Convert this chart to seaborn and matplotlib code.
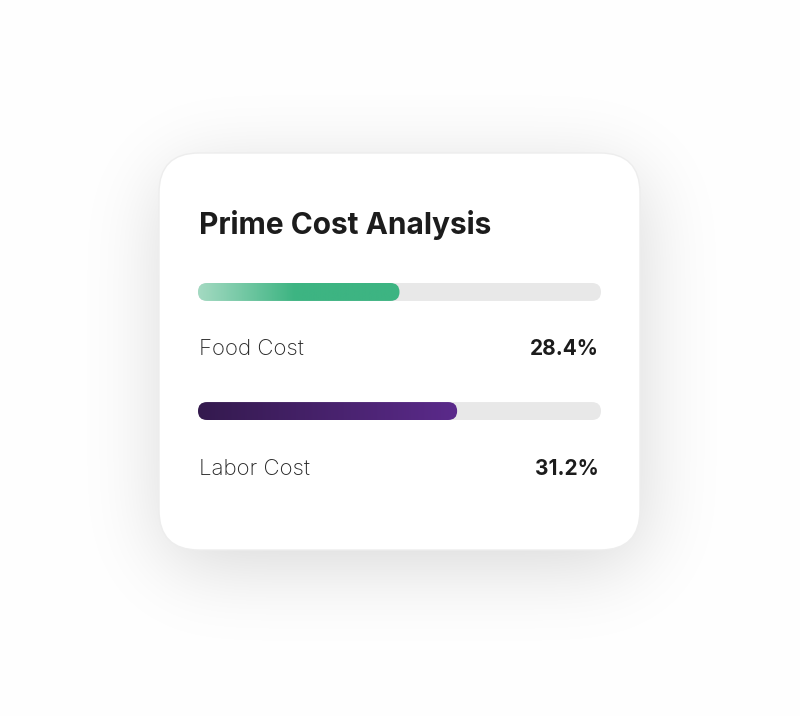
import numpy as np
import matplotlib
matplotlib.use("Agg")
import matplotlib.pyplot as plt
import seaborn as sns
from matplotlib.patches import FancyBboxPatch
from matplotlib.colors import LinearSegmentedColormap

# chart data
title = "Prime Cost Analysis"
categories = ["Food Cost", "Labor Cost"]
value_labels = ["28.4%", "31.2%"]
bar_fill = [50.0, 64.3]      # how far each bar is filled (percent of track)
track_max = [100, 100]

sns.set_theme(style="white")
plt.rcParams["font.family"] = ["Inter", "DejaVu Sans"]

W, H = 800, 716
fig = plt.figure(figsize=(8, 7.16), dpi=100)
fig.patch.set_facecolor("white")

# background axes in pixel coordinates
bg = fig.add_axes([0, 0, 1, 1])
bg.axis("off")

# soft drop shadow behind the card
cx0, cy0, cw, ch, cr = 159, 153, 481, 397, 40
yy, xx = np.mgrid[0:H, 0:W]
sx0, sy0 = cx0 + 2, cy0 + 16
dx = np.maximum(np.maximum(sx0 + cr - xx, xx - (sx0 + cw - cr)), 0)
dy = np.maximum(np.maximum(sy0 + cr - yy, yy - (sy0 + ch - cr)), 0)
mask = (np.hypot(dx, dy) <= cr).astype(float)
sig = 38
k = np.arange(-5 * sig, 5 * sig + 1)
kern = np.exp(-k ** 2 / (2 * sig ** 2))
kern /= kern.sum()
blur = np.apply_along_axis(lambda r: np.convolve(r, kern, mode="same"), 1, mask)
blur = np.apply_along_axis(lambda c: np.convolve(c, kern, mode="same"), 0, blur)
shade = 1 - 0.15 * blur
bg.imshow(np.dstack([shade] * 3), extent=(0, W, H, 0), aspect="auto", zorder=0)
bg.set_xlim(0, W)
bg.set_ylim(H, 0)

card = FancyBboxPatch((cx0, cy0), cw, ch, boxstyle="round,pad=0,rounding_size=40",
                      fc="white", ec="#ededed", lw=1, zorder=1)
bg.add_patch(card)

# bars
ax = fig.add_axes([198 / W, 1 - 420 / H, 403 / W, 137 / H])
ax.patch.set_alpha(0)
bw = 18 / 119.5
sns.barplot(x=track_max, y=categories, orient="h", color="#e8e8e8", width=bw,
            saturation=1, ax=ax)
sns.barplot(x=bar_fill, y=categories, orient="h", color="#3db482", width=bw,
            saturation=1, ax=ax)
ax.axis("off")

asp = (1 / 119.5) / (1 / 4.03)
cmaps = [
    LinearSegmentedColormap.from_list("food", [(0, "#a4dac2"), (0.48, "#3db482"), (1, "#3db482")]),
    LinearSegmentedColormap.from_list("labor", ["#341a4e", "#5b2a8b"]),
]
grad = np.linspace(0, 1, 256).reshape(1, -1)
bars = list(ax.patches)
n = len(categories)
for i, p in enumerate(bars):
    x0, y0 = p.get_x(), p.get_y()
    w, h = p.get_width(), p.get_height()
    p.set_visible(False)
    rr = (h / 2) / asp
    rp = FancyBboxPatch((x0, y0), w, h, boxstyle=f"round,pad=0,rounding_size={rr}",
                        mutation_aspect=asp, fc=p.get_facecolor(), ec="none", zorder=2)
    ax.add_patch(rp)
    if i >= n:
        rp.set_facecolor("none")
        im = ax.imshow(grad, cmap=cmaps[i - n], extent=(x0, x0 + w, y0 + h, y0),
                       aspect="auto", zorder=3)
        im.set_clip_path(rp)
ax.set_xlim(0, 100)
ax.set_ylim(1 + bw / 2, -bw / 2)

# text
bg.text(199, 234, title, fontsize=21.5, fontweight="bold", color="#1c1c1c",
        va="baseline", ha="left", zorder=5)
baselines = [355, 475]
for lab, val, yb in zip(categories, value_labels, baselines):
    bg.text(199, yb, lab, fontsize=16, fontweight="light", color="#262626",
            va="baseline", ha="left", zorder=5)
    bg.text(599, yb, val, fontsize=15, fontweight="bold", color="#1c1c1c",
            va="baseline", ha="right", zorder=5)

fig.savefig("out.png", dpi=100)
